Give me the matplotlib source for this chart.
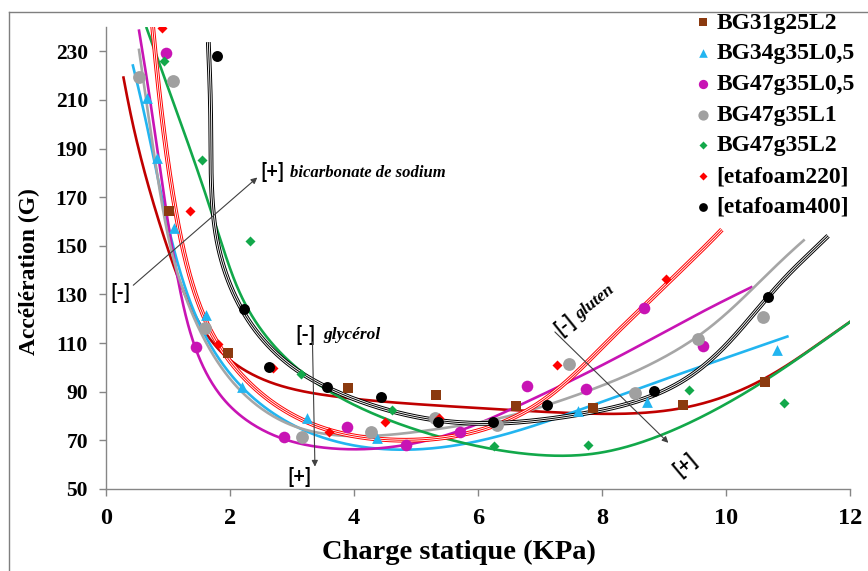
import numpy as np
import matplotlib
matplotlib.use("Agg")
import matplotlib.pyplot as plt
from matplotlib.lines import Line2D

plt.rcParams['font.family'] = ['Liberation Serif', 'DejaVu Serif']
plt.rcParams['font.weight'] = 'bold'

# ---------------- measured points ----------------
labels = ["BG31g25L2", "BG34g35L0,5", "BG47g35L0,5", "BG47g35L1",
          "BG47g35L2", "[etafoam220]", "[etafoam400]"]

x_bg31L2 = [1.02, 1.97, 3.91, 5.33, 6.62, 7.86, 9.31, 10.63]
y_bg31L2 = [164.3, 106.0, 91.4, 88.7, 84.2, 83.3, 84.4, 94.1]

x_bg34L05 = [0.66, 0.82, 1.10, 1.62, 2.19, 3.24, 4.37, 7.62, 8.72, 10.83]
y_bg34L05 = [210.9, 186.0, 157.5, 121.5, 92.0, 79.0, 70.8, 82.2, 85.7, 107.1]

x_bg47L05 = [0.97, 1.45, 2.87, 3.88, 4.84, 5.71, 6.79, 7.74, 8.67, 9.63]
y_bg47L05 = [229.5, 108.6, 71.5, 75.6, 68.2, 73.5, 92.4, 91.0, 124.6, 109.0]

x_bg47L1 = [0.54, 1.08, 1.60, 3.16, 4.27, 5.31, 6.30, 7.47, 8.53, 9.55, 10.60]
y_bg47L1 = [219.3, 217.7, 116.2, 71.5, 73.5, 79.3, 76.3, 101.6, 89.3, 111.5, 120.8]

x_bg47L2 = [0.94, 1.55, 2.32, 3.15, 4.62, 6.26, 7.77, 9.41, 10.94]
y_bg47L2 = [226.0, 185.1, 152.0, 97.5, 82.3, 67.8, 68.1, 90.9, 85.4]

x_eta220 = [0.90, 1.35, 1.80, 2.69, 3.59, 4.50, 5.37, 7.27, 9.03]
y_eta220 = [239.6, 164.3, 109.5, 99.6, 73.3, 77.5, 79.3, 101.2, 136.5]

x_eta400 = [1.79, 2.23, 2.63, 3.56, 4.43, 5.35, 6.25, 7.11, 8.84, 10.67]
y_eta400 = [228.2, 124.0, 100.0, 92.0, 87.8, 77.6, 77.6, 84.5, 90.4, 129.0]

# ---------------- trend lines ----------------
tx_bg31L2 = [0.28, 0.66, 1.0, 1.19, 1.68, 2.16, 2.70, 3.35, 3.94, 5.28, 6.62, 7.97, 9.31, 10.12, 10.66, 11.31, 12.0]
ty_bg31L2 = [219.6, 176.9, 148.0, 137.0, 111.0, 98.9, 93.4, 90.0, 87.2, 84.5, 82.4, 81.1, 83.1, 89.3, 95.5, 107.0, 118.7]

tx_bg34L05 = [0.43, 0.76, 1.09, 1.46, 2.05, 2.59, 3.13, 3.94, 5.01, 6.09, 7.16, 7.97, 9.58, 11.0]
ty_bg34L05 = [224.4, 187.9, 149.5, 120.8, 94.8, 83.8, 74.2, 68.3, 66.3, 70.1, 78.3, 85.8, 100.2, 112.8]

tx_bg47L05 = [0.53, 0.84, 1.06, 1.25, 1.41, 1.68, 2.05, 2.59, 3.13, 3.94, 4.85, 5.71, 6.62, 7.97, 9.05, 10.42]
ty_bg47L05 = [238.9, 187.9, 149.5, 127.6, 111.2, 93.4, 82.4, 72.9, 68.8, 66.7, 68.2, 73.5, 84.5, 100.2, 115.3, 133.1]

tx_bg47L1 = [0.53, 0.93, 1.14, 1.52, 2.05, 2.59, 3.13, 3.94, 5.01, 6.25, 7.16, 7.97, 9.55, 10.42, 11.26]
ty_bg47L1 = [231.0, 166.0, 137.2, 116.7, 93.4, 81.1, 74.2, 71.5, 74.9, 77.6, 85.2, 92.7, 111.5, 133.1, 152.3]

tx_bg47L2 = [0.65, 1.19, 1.57, 1.92, 2.32, 2.76, 3.13, 3.67, 3.94, 4.74, 5.55, 6.62, 7.43, 7.97, 9.05, 10.12, 11.19, 12.0]
ty_bg47L2 = [239.9, 201.5, 174.2, 148.2, 120.8, 108.4, 98.2, 89.3, 85.2, 77.0, 70.1, 65.3, 63.5, 64.5, 73.5, 86.5, 104.3, 118.7]

tx_eta220 = [0.75, 0.98, 1.25, 1.52, 1.79, 2.16, 2.59, 3.13, 3.67, 3.94, 4.74, 5.55, 6.36, 7.16, 7.97, 8.67, 9.04, 9.61, 9.92]
ty_eta220 = [241.0, 187.9, 148.2, 124.9, 109.8, 97.5, 87.9, 78.3, 73.5, 72.5, 70.1, 71.5, 77.0, 87.9, 108.4, 124.6, 134.5, 148.2, 156.4]

tx_eta400 = [1.65, 1.70, 1.81, 2.05, 2.32, 2.70, 3.13, 3.67, 3.94, 4.74, 5.55, 6.36, 7.16, 7.97, 9.05, 9.70, 10.40, 10.94, 11.43, 11.63]
ty_eta400 = [233.7, 187.9, 148.2, 131.7, 118.0, 107.1, 97.5, 90.7, 87.9, 81.1, 77.6, 77.0, 79.0, 82.5, 90.7, 101.6, 120.8, 137.2, 148.2, 153.9]

x_ticks = [0, 2, 4, 6, 8, 10, 12]
y_ticks = [50, 70, 90, 110, 130, 150, 170, 190, 210, 230]


def bspline_basis(t, knots, k=3):
    t = np.asarray(t, float)
    nk = len(knots)
    B = np.zeros((len(t), nk - 1))
    for i in range(nk - 1):
        B[:, i] = (t >= knots[i]) & (t < knots[i + 1])
    last = max(i for i in range(nk - 1) if knots[i] < knots[i + 1])
    B[t >= knots[-1], last] = 1.0
    for d in range(1, k + 1):
        Bn = np.zeros((len(t), nk - 1 - d))
        for i in range(nk - 1 - d):
            v = np.zeros(len(t))
            den = knots[i + d] - knots[i]
            if den > 0:
                v += (t - knots[i]) / den * B[:, i]
            den2 = knots[i + d + 1] - knots[i + 1]
            if den2 > 0:
                v += (knots[i + d + 1] - t) / den2 * B[:, i + 1]
            Bn[:, i] = v
        B = Bn
    return B


SX = 744 / 12.0     # pixels per x unit
SY = 462 / 190.0    # pixels per y unit


def fit_trend(xs, ys, lam=0.06, n=600):
    """Parametric penalised cubic B-spline (P-spline) smoothing fit."""
    px = np.asarray(xs, float) * SX
    py = np.asarray(ys, float) * SY
    d = np.hypot(np.diff(px), np.diff(py))
    t = np.concatenate([[0], np.cumsum(d)])
    t = t / t[-1]
    m = len(px) - 2
    inner = np.linspace(0, 1, m + 2)[1:-1]
    knots = np.concatenate([[0.0] * 4, inner, [1.0] * 4])
    B = bspline_basis(t, knots)
    K = B.shape[1]
    D = np.diff(np.eye(K), 2, axis=0)
    M = B.T @ B + lam * D.T @ D
    cx = np.linalg.solve(M, B.T @ px)
    cy = np.linalg.solve(M, B.T @ py)
    tt = np.linspace(0, 1, n)
    Bt = bspline_basis(tt, knots)
    return (Bt @ cx) / SX, (Bt @ cy) / SY


fig = plt.figure(figsize=(8.68, 5.71), dpi=100)
ax = fig.add_axes([106 / 868, 1 - 489 / 571, 744 / 868, 462 / 571])

# frame of the figure (top and left visible)
fig.add_artist(Line2D([9 / 868, 1], [1 - 12 / 571] * 2, transform=fig.transFigure, color='#7f7f7f', lw=1))
fig.add_artist(Line2D([9 / 868] * 2, [0, 1 - 12 / 571], transform=fig.transFigure, color='#7f7f7f', lw=1))

# trend lines
simple = [
    (tx_bg31L2, ty_bg31L2, '#C00000'),
    (tx_bg34L05, ty_bg34L05, '#22B5F0'),
    (tx_bg47L05, ty_bg47L05, '#C814B4'),
    (tx_bg47L1, ty_bg47L1, '#A6A6A6'),
    (tx_bg47L2, ty_bg47L2, '#12A84A'),
]
for tx, ty, c in simple:
    xx, yy = fit_trend(tx, ty)
    ax.plot(xx, yy, color=c, lw=1.9, zorder=2, solid_capstyle='butt')

for tx, ty, c in [(tx_eta220, ty_eta220, '#FF0000'), (tx_eta400, ty_eta400, '#000000')]:
    xx, yy = fit_trend(tx, ty)
    ax.plot(xx, yy, color=c, lw=3.4, zorder=2, solid_capstyle='butt')
    ax.plot(xx, yy, color='white', lw=2.0, zorder=2, solid_capstyle='butt')
    ax.plot(xx, yy, color=c, lw=0.7, zorder=2, solid_capstyle='butt')

# markers
series = [
    (x_bg31L2, y_bg31L2, 's', '#8B3A0F', 48),
    (x_bg34L05, y_bg34L05, '^', '#22B5F0', 60),
    (x_bg47L05, y_bg47L05, 'o', '#C814B4', 70),
    (x_bg47L1, y_bg47L1, 'o', '#A0A0A0', 85),
    (x_bg47L2, y_bg47L2, 'D', '#12A84A', 26),
    (x_eta220, y_eta220, 'D', '#FF0000', 26),
    (x_eta400, y_eta400, 'o', '#000000', 62),
]
handles = []
for (xs, ys, m, c, s), lab in zip(series, labels):
    h = ax.scatter(xs, ys, marker=m, s=s, color=c, linewidths=0, zorder=3, label=lab)
    handles.append(h)

ax.set_xlim(0, 12)
ax.set_ylim(50, 240)
ax.set_xticks(x_ticks)
ax.set_yticks(y_ticks)
for sp in ['top', 'right']:
    ax.spines[sp].set_visible(False)
for sp in ['left', 'bottom']:
    ax.spines[sp].set_color('#868686')
    ax.spines[sp].set_linewidth(1.0)
ax.tick_params(axis='both', direction='out', length=5, width=1, color='#868686')
ax.tick_params(axis='y', labelsize=15.5, pad=8)
ax.tick_params(axis='x', labelsize=17.5, pad=9)
for t in ax.get_xticklabels() + ax.get_yticklabels():
    t.set_fontweight('bold')

ax.set_xlabel("Charge statique (KPa)", fontsize=20.5, fontweight='bold')
ax.set_ylabel("Accélération (G)", fontsize=17, fontweight='bold')
ax.xaxis.set_label_coords(0.475, -0.11)
ax.yaxis.set_label_coords(-0.088, 0.47)

leg = ax.legend(handles=handles, loc='upper left', bbox_to_anchor=(694 / 868, 1 - 12 / 571),
                bbox_transform=fig.transFigure, frameon=False, fontsize=17,
                handlelength=0.75, handletextpad=0.2, labelspacing=0.39,
                borderpad=0, borderaxespad=0, markerscale=0.8)
for t in leg.get_texts():
    t.set_fontweight('bold')

sans = ['Lato', 'DejaVu Sans']
arrow_kw = dict(arrowstyle='-|>', color='#404040', lw=0.8, mutation_scale=9, shrinkA=0, shrinkB=0)

# bicarbonate de sodium
ax.annotate('', xy=(2.44, 178.1), xytext=(0.44, 133.8), arrowprops=arrow_kw, zorder=4)
ax.text(2.69, 180.2, '[+]', family=sans, fontweight='bold', fontsize=14.5, ha='center', va='center')
ax.text(2.97, 180.0, 'bicarbonate de sodium', fontstyle='italic', fontweight='bold', fontsize=12,
        ha='left', va='center')
ax.text(0.24, 130.5, '[-]', family=sans, fontweight='bold', fontsize=14.5, ha='center', va='center')

# glycerol
ax.annotate('', xy=(3.37, 59.2), xytext=(3.33, 110.5), arrowprops=arrow_kw, zorder=4)
ax.text(3.22, 113.2, '[-]', family=sans, fontweight='bold', fontsize=14.5, ha='center', va='center')
ax.text(3.50, 113.2, 'glycérol', fontstyle='italic', fontweight='bold', fontsize=12.5,
        ha='left', va='center')
ax.text(3.12, 55.0, '[+]', family=sans, fontweight='bold', fontsize=14.5, ha='center', va='center')

# gluten
ax.annotate('', xy=(9.07, 69.0), xytext=(7.24, 114.6), arrowprops=arrow_kw, zorder=4)
ax.text(7.40, 117.4, '[-]', family=sans, fontweight='bold', fontsize=14.5, ha='center', va='center',
        rotation=39, rotation_mode='anchor')
ax.text(7.89, 126.9, 'gluten', fontstyle='italic', fontweight='bold', fontsize=12.5, ha='center',
        va='center', rotation=39, rotation_mode='anchor')
ax.text(9.35, 59.9, '[+]', family=sans, fontweight='bold', fontsize=14.5, ha='center', va='center',
        rotation=40, rotation_mode='anchor')

fig.savefig('out.png', dpi=100)
